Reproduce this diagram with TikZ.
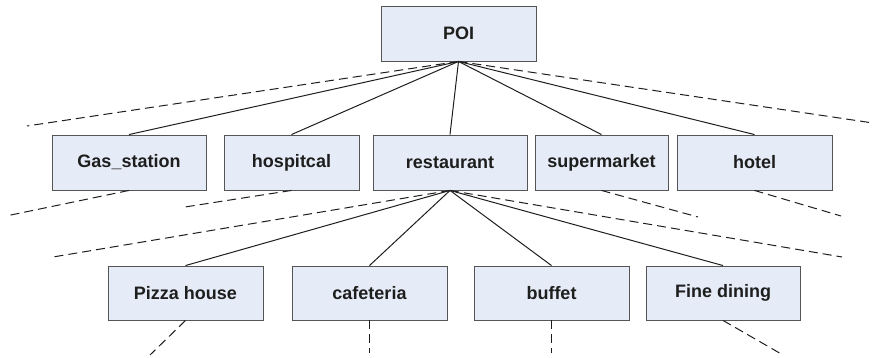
\documentclass[tikz,border=0pt]{standalone}
\usepackage{fontspec}
\setmainfont{Liberation Sans}
\definecolor{boxfill}{HTML}{E6ECF7}
\definecolor{boxline}{HTML}{555555}
\definecolor{ink}{HTML}{1E1E1E}
\begin{document}
\begin{tikzpicture}[x=1pt,y=-1pt,
  cat/.style={draw=boxline, line width=0.9pt, fill=boxfill, rectangle,
    inner sep=0pt, font=\fontsize{18}{20}\selectfont\bfseries, text=ink},
  link/.style={draw=ink, line width=1pt},
  more/.style={draw=ink, line width=1pt, dash pattern=on 9pt off 5pt}]
\useasboundingbox (0,0) rectangle (873,358);

% root
\node[cat, minimum width=155pt, minimum height=55pt] (poi) at (458.5,33.5) {POI};

% first level
\node[cat, minimum width=154pt, minimum height=55pt] (gas)   at (129,162.5)   {Gas\_station};
\node[cat, minimum width=135pt, minimum height=55pt] (hosp)  at (291.5,162.5) {hospitcal};
\node[cat, minimum width=154pt, minimum height=55pt] (rest)  at (450,162.5)   {restaurant};
\node[cat, minimum width=133pt, minimum height=55pt] (super) at (601.5,162.5) {supermarket};
\node[cat, minimum width=155pt, minimum height=55pt] (hotel) at (754.5,162.5) {hotel};

% second level
\node[cat, minimum width=155pt, minimum height=54pt] (pizza) at (185.5,293) {Pizza house};
\node[cat, minimum width=155pt, minimum height=54pt] (cafe)  at (369.5,293) {cafeteria};
\node[cat, minimum width=155pt, minimum height=54pt] (buff)  at (551.5,293) {buffet};
\node[cat, minimum width=154pt, minimum height=54pt] (fine)  at (723,293)   {Fine dining};

% open ends of the dashed continuations
\coordinate (poiL)   at (27,126);
\coordinate (poiR)   at (873,123);
\coordinate (gasE)   at (6,216);
\coordinate (hospE)  at (185,207);
\coordinate (supE)   at (698,217);
\coordinate (hotE)   at (841,216);
\coordinate (restL)  at (53,257);
\coordinate (restR)  at (842,257);
\coordinate (pizzaE) at (150,355);
\coordinate (cafeE)  at (369.5,353);
\coordinate (buffE)  at (551.5,353);
\coordinate (fineE)  at (783,355);

% tree edges
\foreach \c in {gas,hosp,rest,super,hotel}
  \draw[link] (poi.south) -- (\c.north);
\foreach \c in {pizza,cafe,buff,fine}
  \draw[link] (rest.south) -- (\c.north);

% dashed continuations
\draw[more] (poi.south) -- (poiL);
\draw[more] (poi.south) -- (poiR);
\draw[more] (gas.south) -- (gasE);
\draw[more] (hosp.south) -- (hospE);
\draw[more] (super.south) -- (supE);
\draw[more] (hotel.south) -- (hotE);
\draw[more] (rest.south) -- (restL);
\draw[more] (rest.south) -- (restR);
\draw[more] (pizza.south) -- (pizzaE);
\draw[more] (cafe.south) -- (cafeE);
\draw[more] (buff.south) -- (buffE);
\draw[more] (fine.south) -- (fineE);
\end{tikzpicture}
\end{document}
